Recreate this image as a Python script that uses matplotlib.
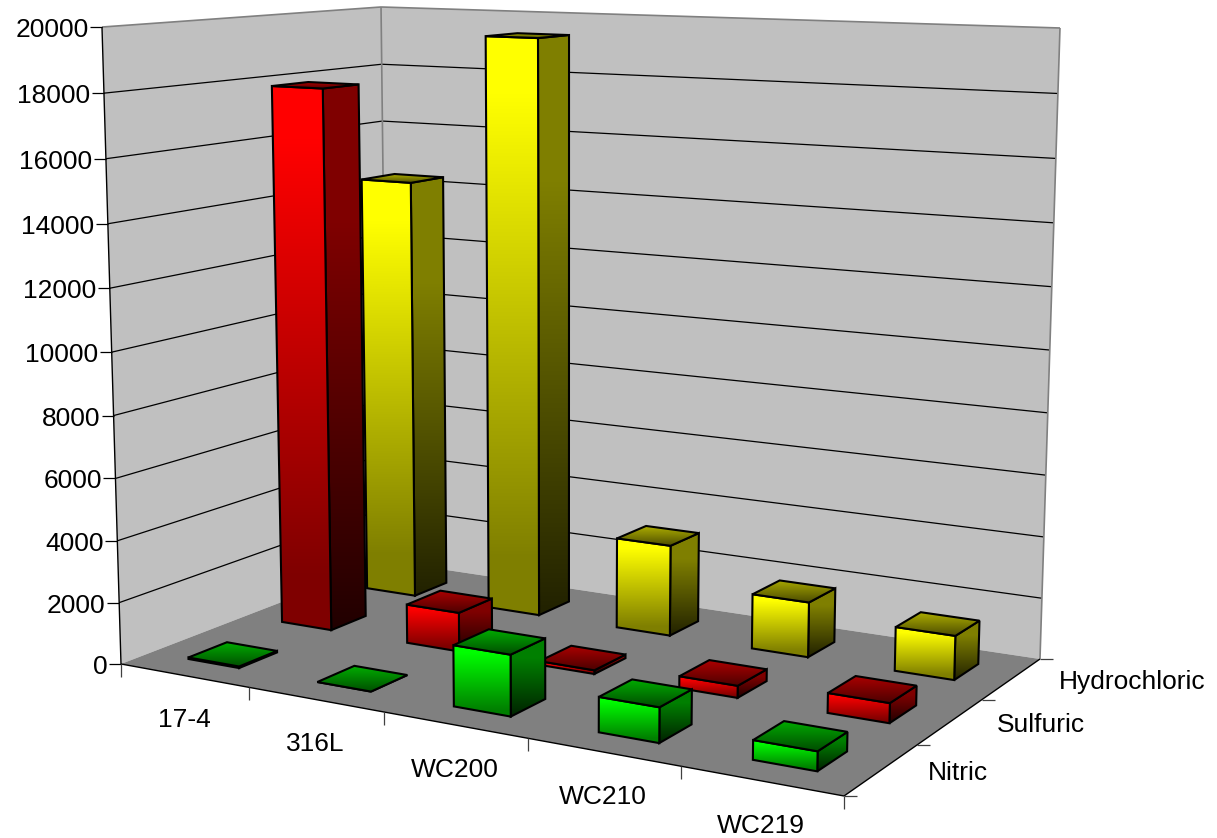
#!/usr/bin/env python

import matplotlib
matplotlib.use("Agg")
import matplotlib.pyplot as plt
import numpy as np
from matplotlib.patches import Polygon

plt.rcParams["font.family"] = ["Liberation Sans", "DejaVu Sans"]
fontsize = 19.0

categories = ["17-4", "316L", "WC200", "WC210", "WC219"]
series_names = ["Nitric", "Sulfuric", "Hydrochloric"]
nitric = [50, 0, 1900, 1070, 581]
sulfuric = [17851, 1280, 120, 380, 616]
hydrochloric = [14348, 19355, 3030, 1803, 1418]
z_ticks = list(range(0, 20001, 2000))
z_max = 20000
series_values = [nitric, sulfuric, hydrochloric]
series_colors = [(0, 1, 0), (1, 0, 0), (1, 1, 0)]

bar_fraction = 0.4

# box corners on the canvas, used to fit the perspective camera
box_corners = [(0, 0, 0), (1, 0, 0), (1, 1, 0), (0, 0, 1), (0, 1, 1), (1, 1, 1)]
box_pixels = [(121, 664), (844, 796), (1040, 659), (102, 27), (381, 7), (1060, 28)]

rows = []
rhs = []
for (x, y, z), (u, v) in zip(box_corners, box_pixels):
    rows.append([x, y, z, 1, 0, 0, 0, 0, -u*x, -u*y, -u*z])
    rows.append([0, 0, 0, 0, x, y, z, 1, -v*x, -v*y, -v*z])
    rhs += [u, v]
camera = np.linalg.lstsq(np.array(rows, float), np.array(rhs, float), rcond=None)[0]
camera = np.append(camera, 1).reshape(3, 4)


def project(x, y, z):
    h = camera @ np.array([x, y, z, 1.0])
    return h[:2] / h[2]


fig = plt.figure(figsize=(12.17, 8.38), dpi=100)
ax = fig.add_axes([0, 0, 1, 1])
ax.set_axis_off()

order = [2]


def next_z():
    order[0] += 1
    return order[0]


def line(p, q, color="black", lw=0.9):
    ax.plot([p[0], q[0]], [p[1], q[1]], color=color, lw=lw, zorder=next_z(),
            solid_capstyle="butt")


def gradient_face(verts, color, stops):
    verts = np.array(verts)
    xmin, ymin = verts.min(axis=0)
    xmax, ymax = verts.max(axis=0)
    ymax = max(ymax, ymin + 1)
    xmax = max(xmax, xmin + 1)
    t = np.linspace(0, 1, 256)
    shade = np.interp(t, [s[0] for s in stops], [s[1] for s in stops])
    img = shade[:, None, None] * np.array(color)[None, None, :]
    z = next_z()
    im = ax.imshow(img, extent=(xmin, xmax, ymax, ymin), aspect="auto",
                   interpolation="bilinear", zorder=z)
    clip = Polygon(verts, closed=True, transform=ax.transData, fc="none", ec="none")
    ax.add_patch(clip)
    im.set_clip_path(clip)
    ax.add_patch(Polygon(verts, closed=True, fc="none", ec="black", lw=1.5,
                         joinstyle="miter", zorder=next_z()))


front_stops = [(0, 1.0), (0.1, 1.0), (0.9, 0.5), (1, 0.5)]
side_stops = [(0, 0.5), (0.25, 0.5), (1, 0.13)]
top_stops = [(0, 0.68), (1, 0.3)]


def draw_bar(i, j, value, color):
    x0 = (i + (1 - bar_fraction) / 2) / len(categories)
    x1 = x0 + bar_fraction / len(categories)
    y0 = (j + (1 - bar_fraction) / 2) / len(series_names)
    y1 = y0 + bar_fraction / len(series_names)
    z = value / z_max
    front = [project(x0, y0, z), project(x1, y0, z), project(x1, y0, 0), project(x0, y0, 0)]
    side = [project(x1, y0, z), project(x1, y1, z), project(x1, y1, 0), project(x1, y0, 0)]
    top = [project(x0, y0, z), project(x1, y0, z), project(x1, y1, z), project(x0, y1, z)]
    gradient_face(side, color, side_stops)
    gradient_face(front, color, front_stops)
    gradient_face(top, color, top_stops)


# walls and floor
ax.add_patch(Polygon([project(0, 0, 0), project(0, 1, 0), project(0, 1, 1), project(0, 0, 1)],
                     fc="#c0c0c0", ec="none", zorder=1))
ax.add_patch(Polygon([project(0, 1, 0), project(1, 1, 0), project(1, 1, 1), project(0, 1, 1)],
                     fc="#c0c0c0", ec="none", zorder=1))
ax.add_patch(Polygon([project(0, 0, 0), project(1, 0, 0), project(1, 1, 0), project(0, 1, 0)],
                     fc="#808080", ec="none", zorder=1))

# gridlines on both walls
for tick in z_ticks[1:-1]:
    z = tick / z_max
    line(project(0, 0, z), project(0, 1, z))
    line(project(0, 1, z), project(1, 1, z))

# wall edges
line(project(0, 0, 1), project(0, 1, 1), color="#808080", lw=1.2)
line(project(0, 1, 1), project(1, 1, 1), color="#808080", lw=1.2)
line(project(0, 1, 0), project(0, 1, 1), color="#808080", lw=1.2)
line(project(1, 1, 0), project(1, 1, 1), color="#808080", lw=1.2)

# outer axes lines
line(project(0, 0, 0), project(0, 0, 1), lw=1.0)
line(project(0, 0, 0), project(1, 0, 0), lw=1.0)
line(project(1, 0, 0), project(1, 1, 0), lw=1.0)

# value axis
for tick in z_ticks:
    p = project(0, 0, tick / z_max)
    line(p, p + np.array([-12, 0]), lw=0.9)
    ax.text(p[0] - 13.5, p[1] + 3, str(tick), ha="right", va="center", fontsize=fontsize)

# category axis
for i in range(len(categories) + 1):
    p = project(i / len(categories), 0, 0)
    line(p, p + np.array([0, 13]), lw=0.9, color="#404040")
for i, name in enumerate(categories):
    p = project((i + 0.5) / len(categories), 0, 0)
    ax.text(p[0], p[1] + 45, name, ha="center", va="center", fontsize=fontsize)

# series axis
for j in range(len(series_names) + 1):
    p = project(1, j / len(series_names), 0)
    line(p, p + np.array([13, 0]), lw=0.9, color="#404040")
for j, name in enumerate(series_names):
    p = project(1, (j + 0.5) / len(series_names), 0)
    ax.text(p[0] + 47, p[1] + 3, name, ha="left", va="center", fontsize=fontsize)

# back row first so nearer bars cover it
for j in reversed(range(len(series_names))):
    for i in range(len(categories)):
        draw_bar(i, j, series_values[j][i], series_colors[j])

ax.set_xlim(0, 1217)
ax.set_ylim(838, 0)

fig.savefig("out.png", dpi=100)
